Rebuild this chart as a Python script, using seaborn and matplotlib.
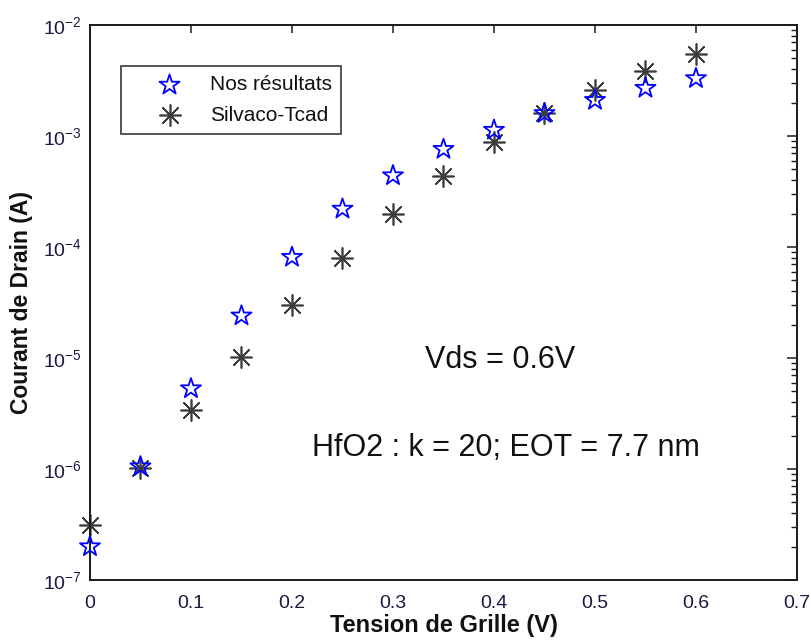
import numpy as np
import pandas as pd
import matplotlib
matplotlib.use("Agg")
import matplotlib.pyplot as plt
import seaborn as sns
from matplotlib.ticker import LogLocator, MultipleLocator, NullFormatter

# Gate voltage sweep (V)
vg = [0.0, 0.05, 0.10, 0.15, 0.20, 0.25, 0.30, 0.35, 0.40, 0.45, 0.50, 0.55, 0.60]
# Drain current (A) - our model
id_model = [2.0e-7, 1.05e-6, 5.3e-6, 2.4e-5, 8.1e-5, 2.2e-4, 4.4e-4, 7.6e-4,
            1.13e-3, 1.6e-3, 2.1e-3, 2.7e-3, 3.3e-3]
# Drain current (A) - Silvaco TCAD simulation
id_tcad = [3.1e-7, 1.03e-6, 3.4e-6, 1.02e-5, 3.0e-5, 7.9e-5, 2.0e-4, 4.4e-4,
           8.9e-4, 1.6e-3, 2.6e-3, 3.85e-3, 5.5e-3]
series_names = ["Nos résultats", "Silvaco-Tcad"]

x_label = "Tension de Grille (V)"
y_label = "Courant de Drain (A)"
note_vds = "Vds = 0.6V"
note_oxide = "HfO2 : k = 20; EOT = 7.7 nm"

df = pd.DataFrame({
    "vg": vg * 2,
    "id": id_model + id_tcad,
    "source": [series_names[0]] * len(vg) + [series_names[1]] * len(vg),
})

sns.set_theme(style="white")
plt.rcParams["font.family"] = ["Liberation Sans", "DejaVu Sans"]
plt.rcParams["mathtext.fontset"] = "custom"
plt.rcParams["mathtext.rm"] = "Liberation Sans"
plt.rcParams["mathtext.it"] = "Liberation Sans:italic"
plt.rcParams["mathtext.bf"] = "Liberation Sans:bold"
plt.rcParams["axes.unicode_minus"] = False

fig = plt.figure(figsize=(8.12, 6.41), dpi=100)
ax = fig.add_axes([0.1108, 0.0952, 0.8707, 0.8658])

sns.scatterplot(data=df[df["source"] == series_names[0]], x="vg", y="id",
                marker="*", s=230, facecolors="none", edgecolor="#0000ff",
                linewidth=1.3, ax=ax, label=series_names[0], zorder=3,
                clip_on=False)
sns.scatterplot(data=df[df["source"] == series_names[1]], x="vg", y="id",
                marker=(8, 2, 0), s=230, color="#3c3c3c",
                linewidth=1.2, ax=ax, label=series_names[1], zorder=2,
                clip_on=False)

ax.set_yscale("log")
ax.set_xlim(0, 0.7)
ax.set_ylim(1e-7, 1e-2)
ax.xaxis.set_major_locator(MultipleLocator(0.1))
ax.xaxis.set_major_formatter(plt.FuncFormatter(lambda v, p: "0" if abs(v) < 1e-9 else f"{v:g}"))
ax.yaxis.set_major_locator(LogLocator(base=10, numticks=10))
ax.yaxis.set_minor_locator(LogLocator(base=10, subs=np.arange(2, 10), numticks=20))
ax.yaxis.set_minor_formatter(NullFormatter())

for side in ["left", "right", "top", "bottom"]:
    ax.spines[side].set_visible(True)
    ax.spines[side].set_color("#1a1a1a")
    ax.spines[side].set_linewidth(1.4)

ax.tick_params(axis="both", which="both", direction="in", top=True, right=True,
               colors="#1a1a1a", labelcolor="#1a1a40")
ax.tick_params(axis="x", which="major", length=6, width=1.1, labelsize=14, pad=11)
ax.tick_params(axis="y", which="major", length=7, width=1.1, labelsize=14, pad=6)
ax.tick_params(axis="y", which="minor", length=4, width=1.0)

ax.set_xlabel(x_label, fontsize=17, fontweight="bold", labelpad=1, color="#111111")
ax.set_ylabel(y_label, fontsize=16.5, fontweight="bold", labelpad=7, color="#111111")

ax.text(0.474, 0.396, note_vds, transform=ax.transAxes, fontsize=22,
        ha="left", va="center", color="#111111")
ax.text(0.314, 0.238, note_oxide, transform=ax.transAxes, fontsize=22,
        ha="left", va="center", color="#111111")

leg = ax.legend(loc="upper left", bbox_to_anchor=(0.044, 0.926), fontsize=15,
                frameon=True, fancybox=False, edgecolor="#1a1a1a",
                borderpad=0.45, handletextpad=0.05, labelspacing=0.55,
                handlelength=3.75, borderaxespad=0)
leg.get_frame().set_linewidth(1.3)
for t in leg.get_texts():
    t.set_color("#111111")

fig.savefig("out.png", dpi=100, facecolor="white")
